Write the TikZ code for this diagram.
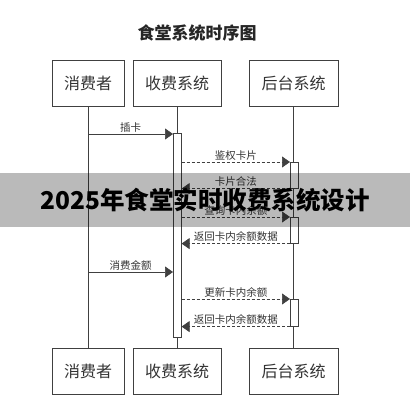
\documentclass[tikz,border=0pt]{standalone}
\usepackage{fontspec}
\setmainfont{Noto Sans CJK SC}
\usetikzlibrary{arrows.meta}
\definecolor{linec}{gray}{0.25}
\definecolor{textc}{gray}{0.2}
\tikzset{
  actorbox/.style={draw=linec, line width=0.8pt, fill=white, inner sep=0pt,
    minimum height=46pt, font=\fontsize{16}{16}\selectfont, text=textc},
  actbar/.style={draw=linec, line width=0.6pt, fill=white, minimum width=8pt, inner sep=0pt, anchor=north west},
  life/.style={draw=linec, line width=0.7pt},
  msg/.style={draw=linec, line width=0.7pt, -{Triangle[length=8pt,width=11pt]}},
  dmsg/.style={msg, dash pattern=on 3pt off 2pt},
  lbl/.style={font=\fontsize{10.5}{10.5}\selectfont, text=textc, inner sep=1.5pt, above}
}
\begin{document}
\begin{tikzpicture}[x=1pt,y=-1pt]
\useasboundingbox[fill=white] (0,0) rectangle (410,400);
\node[font=\bfseries\fontsize{17}{17}\selectfont, text=black!85] (title) at (197,33) {食堂系统时序图};
% actors top
\node[actorbox, minimum width=72pt] (p1t) at (88,83) {消费者};
\node[actorbox, minimum width=88pt] (p2t) at (177,83) {收费系统};
\node[actorbox, minimum width=89pt] (p3t) at (293.5,83) {后台系统};
% actors bottom
\node[actorbox, minimum width=72pt] (p1b) at (88,371.5) {消费者};
\node[actorbox, minimum width=88pt] (p2b) at (177,371.5) {收费系统};
\node[actorbox, minimum width=89pt] (p3b) at (293.5,371.5) {后台系统};
% lifelines
\draw[life] (p1t.south) -- (p1b.north);
\draw[life] (p2t.south) -- (p2b.north);
\draw[life] (p3t.south) -- (p3b.north);
% activations
\node[actbar, minimum height=204pt] (a1) at (173,133) {};
\node[actbar, minimum height=26pt] (b1) at (290,162) {};
\node[actbar, minimum height=26pt] (b2) at (290,217) {};
\node[actbar, minimum height=27pt] (b3) at (290,299) {};
% messages
\coordinate (m1) at (88,134);
\coordinate (m6) at (88,272);
\draw[msg] (m1) -- node[lbl] (l1) {插卡} (m1 -| a1.west);
\draw[dmsg] (b1.north west -| a1.east) -- node[lbl] (l2) {鉴权卡片} (b1.north west);
\draw[dmsg] (b1.south west) -- node[lbl] (l3) {卡片合法} (b1.south west -| a1.east);
\draw[dmsg] (b2.north west -| a1.east) -- node[lbl] (l4) {查询卡内余额} (b2.north west);
\draw[dmsg] (b2.south west) -- node[lbl] (l5) {返回卡内余额数据} (b2.south west -| a1.east);
\draw[msg] (m6) -- node[lbl] (l6) {消费金额} (m6 -| a1.west);
\draw[dmsg] (b3.north west -| a1.east) -- node[lbl] (l7) {更新卡内余额} (b3.north west);
\draw[dmsg] (b3.south west) -- node[lbl] (l8) {返回卡内余额数据} (b3.south west -| a1.east);
% banner
\fill[black, fill opacity=0.27] (0,173) rectangle (410,227);
\node[font=\bfseries\fontsize{24.5}{24.5}\selectfont, text=black] (banner) at (205,200) {2025年食堂实时收费系统设计};
\end{tikzpicture}
\end{document}
